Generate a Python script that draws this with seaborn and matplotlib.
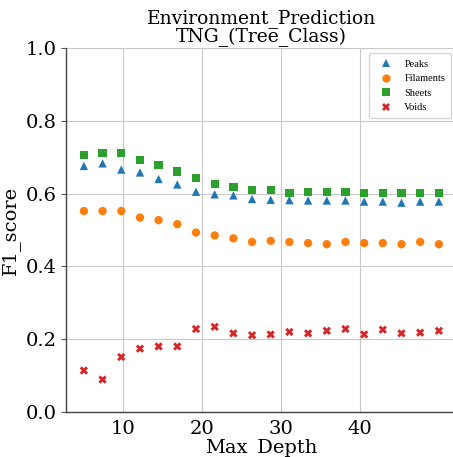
import numpy as np
import pandas as pd
import matplotlib
matplotlib.use('Agg')
import matplotlib.pyplot as plt
import seaborn as sns

# values
max_depth = [5.0, 7.37, 9.74, 12.11, 14.47, 16.84, 19.21, 21.58, 23.95, 26.32,
             28.68, 31.05, 33.42, 35.79, 38.16, 40.53, 42.89, 45.26, 47.63, 50.0]
peaks = [0.676, 0.683, 0.666, 0.658, 0.640, 0.625, 0.605, 0.598, 0.595, 0.585,
         0.583, 0.582, 0.581, 0.581, 0.581, 0.578, 0.578, 0.575, 0.578, 0.578]
filaments = [0.552, 0.552, 0.552, 0.534, 0.527, 0.516, 0.493, 0.485, 0.477, 0.467,
             0.470, 0.467, 0.464, 0.461, 0.467, 0.464, 0.464, 0.461, 0.467, 0.461]
sheets = [0.706, 0.712, 0.712, 0.692, 0.679, 0.661, 0.642, 0.627, 0.619, 0.609,
          0.609, 0.602, 0.604, 0.604, 0.604, 0.602, 0.602, 0.602, 0.602, 0.602]
voids = [0.114, 0.089, 0.151, 0.174, 0.180, 0.180, 0.228, 0.234, 0.216, 0.211,
         0.213, 0.220, 0.216, 0.223, 0.228, 0.213, 0.226, 0.216, 0.218, 0.223]

classes = ['Peaks', 'Filaments', 'Sheets', 'Voids']
frames = []
for name, vals in zip(classes, [peaks, filaments, sheets, voids]):
    frames.append(pd.DataFrame({'Max_Depth': max_depth, 'F1_score': vals, 'Environment': name}))
df = pd.concat(frames, ignore_index=True)

sns.set_style('whitegrid')
plt.rcParams['font.family'] = ['DejaVu Serif']
plt.rcParams['text.color'] = 'black'
plt.rcParams['axes.labelcolor'] = 'black'
plt.rcParams['xtick.color'] = 'black'
plt.rcParams['ytick.color'] = 'black'

fig = plt.figure(figsize=(4.53, 4.57), dpi=100)
ax = fig.add_axes([0.146, 0.0985, 0.862, 0.7965])

palette = {'Peaks': '#1f77b4', 'Filaments': '#ff7f0e', 'Sheets': '#2ca02c', 'Voids': '#d62728'}
markers = {'Peaks': '^', 'Filaments': 'o', 'Sheets': 's', 'Voids': 'X'}
sns.scatterplot(data=df, x='Max_Depth', y='F1_score', hue='Environment', style='Environment',
                palette=palette, markers=markers, s=36, linewidth=0, ax=ax)

ax.set_ylim(0, 1.0)
ax.set_xlim(2.75, 52.25)
ax.set_xticks([10, 20, 30, 40])
ax.set_yticks([0.0, 0.2, 0.4, 0.6, 0.8, 1.0])
ax.set_xlabel('Max_Depth', fontsize=14, labelpad=0)
ax.set_ylabel('F1_score', fontsize=14)
ax.set_title('Environment_Prediction\nTNG_(Tree_Class)', fontsize=13.5, pad=4, linespacing=1.0)
ax.tick_params(axis='both', labelsize=14)
ax.tick_params(axis='y', left=True, length=3.5, color='#555555')
ax.tick_params(axis='x', bottom=False, pad=2)
ax.grid(True, color='#c8c8c8', linewidth=0.8)
for side in ['top', 'right']:
    ax.spines[side].set_visible(False)
for side in ['left', 'bottom']:
    ax.spines[side].set_color('#444444')
    ax.spines[side].set_linewidth(1.0)

leg = ax.legend(loc='upper right', title=None, frameon=True, borderpad=0.6,
                prop={'family': 'Liberation Serif', 'size': 7.5})
leg.get_frame().set_edgecolor('#cccccc')

fig.savefig('out.png', dpi=100)
